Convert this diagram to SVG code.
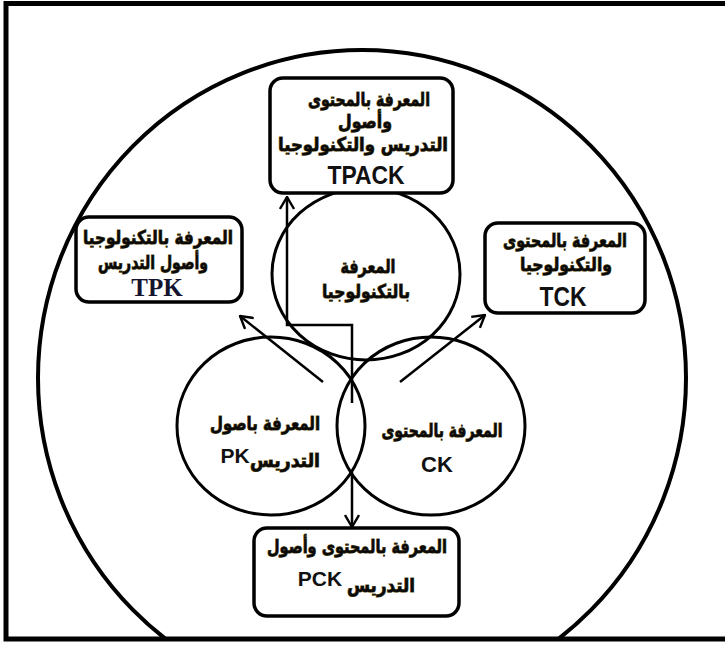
<svg xmlns="http://www.w3.org/2000/svg" width="725" height="647" viewBox="0 0 725 647">
<style>
.frame{fill:none;stroke:#000;stroke-width:5}
.big{fill:none;stroke:#000;stroke-width:4}
.circ{fill:none;stroke:#000;stroke-width:3}
.box{fill:#fff;stroke:#000;stroke-width:3.5}
.ar{font-family:"DejaVu Sans",sans-serif;font-weight:bold;font-size:19px;fill:#0a0a0a;stroke:#5e4f16;stroke-width:1;paint-order:stroke;text-anchor:middle}
.en{font-family:"Liberation Sans",Arial,sans-serif;font-weight:bold;font-size:22px;fill:#111;text-anchor:middle}
.ser{font-family:"Liberation Serif","Times New Roman",serif;font-weight:bold;font-size:25px;fill:#14142e;text-anchor:middle}
.conn{fill:none;stroke:#000;stroke-width:2.5}
</style>
<defs>
<marker id="arr" viewBox="0 0 14 16" refX="13" refY="8" markerWidth="14" markerHeight="16" orient="auto" markerUnits="userSpaceOnUse">
<path d="M1,1 L13,8 L1,15" fill="none" stroke="#000" stroke-width="2.4"/>
</marker>
<clipPath id="inner"><rect x="0" y="0" width="725" height="638"/></clipPath>
</defs>
<rect width="725" height="647" fill="#fff"/>
<g id="outer-circle" clip-path="url(#inner)">
<ellipse class="big" cx="362" cy="378" rx="324" ry="328"/>
</g>
<g id="frame">
<rect class="frame" x="6" y="3.5" width="730" height="635.5"/>
</g>
<g id="tk">
<ellipse class="circ" cx="366" cy="274" rx="94" ry="86"/>
<text class="ar" x="368" y="273" textLength="55" lengthAdjust="spacingAndGlyphs">المعرفة</text>
<text class="ar" x="366" y="298" textLength="88" lengthAdjust="spacingAndGlyphs">بالتكنولوجيا</text>
</g>
<g id="pk">
<ellipse class="circ" cx="271" cy="426" rx="94" ry="89"/>
<text class="ar" x="265" y="430" textLength="110" lengthAdjust="spacingAndGlyphs">المعرفة باصول</text>
<text class="en" x="235" y="463" style="font-size:21px">PK</text>
<text class="ar" x="285" y="467" textLength="70" lengthAdjust="spacingAndGlyphs">التدريس</text>
</g>
<g id="ck">
<ellipse class="circ" cx="431" cy="426" rx="94" ry="89"/>
<text class="ar" x="442" y="437" textLength="121" lengthAdjust="spacingAndGlyphs">المعرفة بالمحتوى</text>
<text class="en" x="437" y="472">CK</text>
</g>
<g id="tpack">
<rect class="box" x="270" y="78" width="183" height="115" rx="13"/>
<text class="ar" x="369" y="106" textLength="122" lengthAdjust="spacingAndGlyphs">المعرفة بالمحتوى</text>
<text class="ar" x="365" y="128" textLength="54" lengthAdjust="spacingAndGlyphs">وأصول</text>
<text class="ar" x="363" y="151" textLength="170" lengthAdjust="spacingAndGlyphs">التدريس والتكنولوجيا</text>
<text class="en" x="366" y="184" style="font-size:26px" textLength="77" lengthAdjust="spacingAndGlyphs">TPACK</text>
</g>
<g id="tpk">
<rect class="box" x="76" y="217" width="166" height="85" rx="13"/>
<text class="ar" x="158" y="244" textLength="150" lengthAdjust="spacingAndGlyphs">المعرفة بالتكنولوجيا</text>
<text class="ar" x="153" y="269" textLength="110" lengthAdjust="spacingAndGlyphs">وأصول التدريس</text>
<text class="ser" x="157" y="296">TPK</text>
</g>
<g id="tck">
<rect class="box" x="485" y="223" width="160" height="90" rx="13"/>
<text class="ar" x="565" y="247" textLength="124" lengthAdjust="spacingAndGlyphs">المعرفة بالمحتوى</text>
<text class="ar" x="566" y="271" textLength="92" lengthAdjust="spacingAndGlyphs">والتكنولوجيا</text>
<text class="en" x="563" y="306" style="font-size:27px" textLength="47" lengthAdjust="spacingAndGlyphs">TCK</text>
</g>
<g id="pck">
<rect class="box" x="254" y="528" width="205" height="88" rx="13"/>
<text class="ar" x="357" y="553" textLength="180" lengthAdjust="spacingAndGlyphs">المعرفة بالمحتوى وأصول</text>
<text class="en" x="320" y="586" style="font-size:21px">PCK</text>
<text class="ar" x="381" y="592" textLength="68" lengthAdjust="spacingAndGlyphs">التدريس</text>
</g>
<g id="connectors">
<path class="conn" d="M352,403 L352,325 L287,325 L287,197" marker-end="url(#arr)"/>
<path class="conn" d="M352,472 L352,527" marker-end="url(#arr)"/>
<path class="conn" d="M323,382 L240,316" marker-end="url(#arr)"/>
<path class="conn" d="M400,382 L485,315" marker-end="url(#arr)"/>
</g>
</svg>
